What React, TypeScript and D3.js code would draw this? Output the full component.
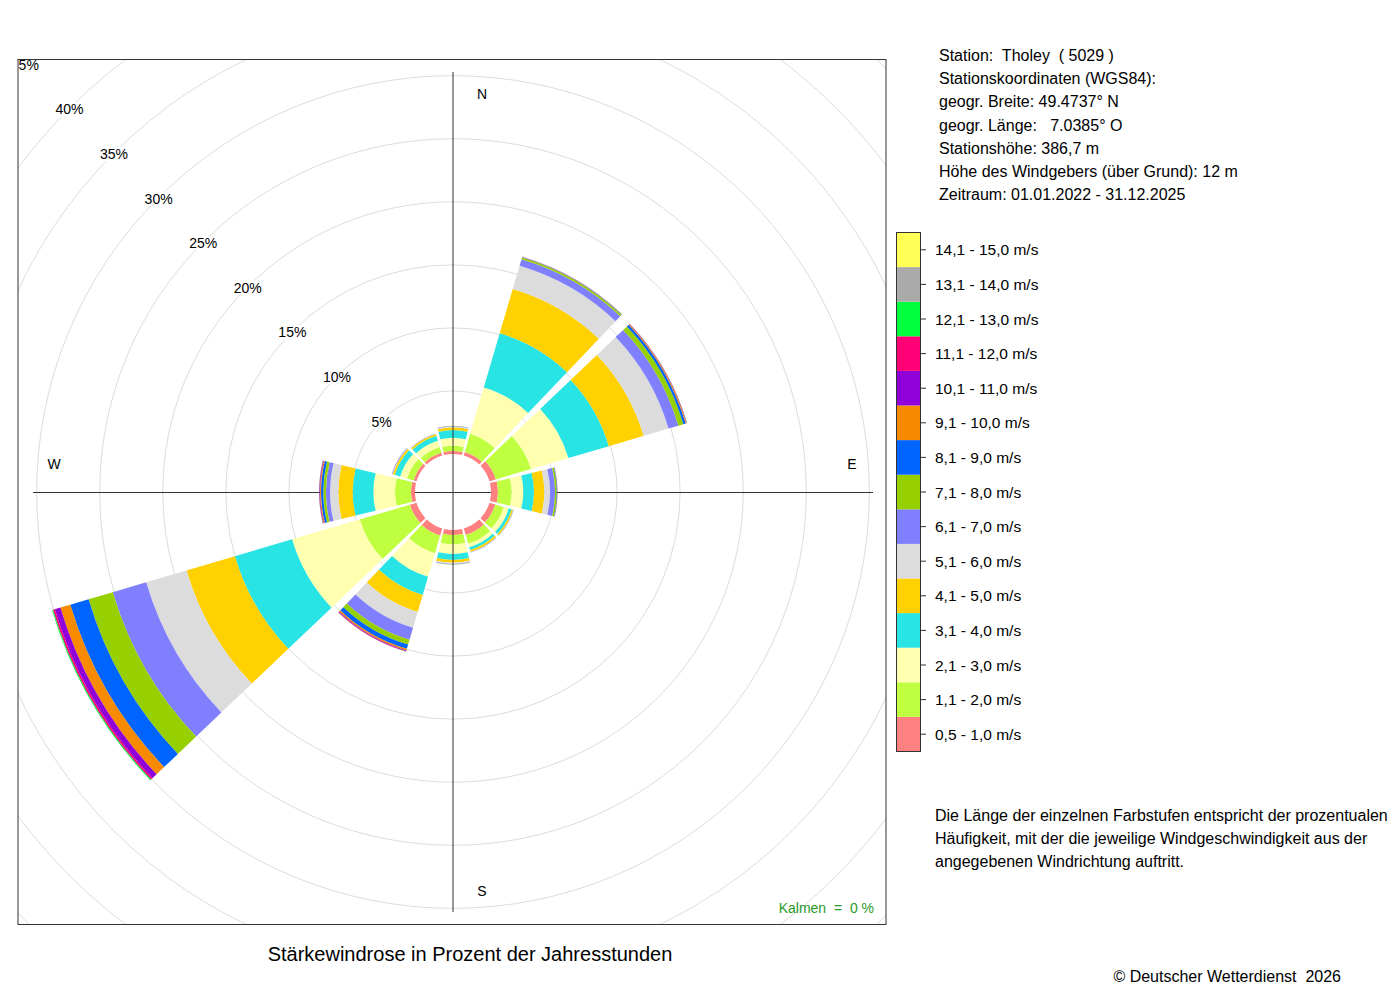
import React, { useEffect, useRef } from 'react';
import * as d3 from 'd3';

// Windrichtungen (Sektormitte, Grad ab Nord, im Uhrzeigersinn)
const directions = [0, 30, 60, 90, 120, 150, 180, 210, 240, 270, 300, 330];

const speedClasses = [
  '0,5 - 1,0 m/s', '1,1 - 2,0 m/s', '2,1 - 3,0 m/s', '3,1 - 4,0 m/s', '4,1 - 5,0 m/s',
  '5,1 - 6,0 m/s', '6,1 - 7,0 m/s', '7,1 - 8,0 m/s', '8,1 - 9,0 m/s', '9,1 - 10,0 m/s',
  '10,1 - 11,0 m/s', '11,1 - 12,0 m/s', '12,1 - 13,0 m/s', '13,1 - 14,0 m/s', '14,1 - 15,0 m/s',
];

const speedColors = [
  '#FF8080', '#BFFF3F', '#FFFFAF', '#29E4E4', '#FFD100',
  '#DCDCDC', '#8080FF', '#97D000', '#0064FF', '#F88A00',
  '#9000D8', '#FF0077', '#00FF3C', '#AAAAAA', '#FFFF55',
];

// Häufigkeit in % der Jahresstunden je Geschwindigkeitsstufe (von 0,5 m/s aufwärts)
const freq000 = [0.24, 0.42, 0.63, 0.61, 0.21, 0.07, 0.04, 0.01, 0, 0, 0, 0, 0, 0, 0];
const freq030 = [0.30, 1.50, 3.83, 4.47, 3.66, 1.92, 0.54, 0.14, 0.04, 0.02, 0.01, 0.005, 0.005, 0, 0];
const freq060 = [0.53, 2.91, 3.09, 3.34, 2.88, 2.05, 0.82, 0.41, 0.19, 0.07, 0.03, 0.01, 0.01, 0, 0];
const freq090 = [0.55, 1.09, 0.92, 0.85, 0.82, 0.45, 0.40, 0.13, 0.04, 0.02, 0.01, 0, 0, 0, 0];
const freq120 = [0.48, 0.71, 0.40, 0.24, 0.12, 0.02, 0.03, 0.01, 0, 0, 0, 0, 0, 0, 0];
const freq150 = [0.55, 0.72, 0.28, 0.23, 0.16, 0.02, 0.03, 0, 0, 0, 0, 0, 0, 0, 0];
const freq180 = [0.40, 0.74, 0.76, 0.48, 0.21, 0.10, 0.05, 0.01, 0, 0, 0, 0, 0, 0, 0];
const freq210 = [0.59, 1.46, 1.95, 1.50, 1.40, 1.30, 1.00, 0.40, 0.35, 0.13, 0.06, 0.03, 0.02, 0, 0];
const freq240 = [0.55, 4.15, 5.59, 4.73, 4.00, 3.33, 2.76, 2.00, 1.51, 0.82, 0.46, 0.15, 0.08, 0.01, 0];
const freq270 = [0.32, 1.27, 1.71, 1.64, 1.14, 0.66, 0.32, 0.21, 0.18, 0.08, 0.05, 0.02, 0.01, 0, 0];
const freq300 = [0.24, 0.55, 0.56, 0.45, 0.16, 0.04, 0.04, 0.01, 0, 0, 0, 0, 0, 0, 0];
const freq330 = [0.24, 0.47, 0.52, 0.40, 0.15, 0.02, 0.02, 0.01, 0, 0, 0, 0, 0, 0, 0];

const freqByDirection = [
  freq000, freq030, freq060, freq090, freq120, freq150,
  freq180, freq210, freq240, freq270, freq300, freq330,
];

const percentTicks = [5, 10, 15, 20, 25, 30, 35, 40, 45];

const compassLabels = [
  { label: 'N', angle: 0 },
  { label: 'E', angle: 90 },
  { label: 'S', angle: 180 },
  { label: 'W', angle: 270 },
];

const stationLines = [
  'Station:  Tholey  ( 5029 )',
  'Stationskoordinaten (WGS84):',
  'geogr. Breite: 49.4737° N',
  'geogr. Länge:   7.0385° O',
  'Stationshöhe: 386,7 m',
  'Höhe des Windgebers (über Grund): 12 m',
  'Zeitraum: 01.01.2022 - 31.12.2025',
];

const noteLines = [
  'Die Länge der einzelnen Farbstufen entspricht der prozentualen',
  'Häufigkeit, mit der die jeweilige Windgeschwindigkeit aus der',
  'angegebenen Windrichtung auftritt.',
];

const WindRose: React.FC = () => {
  const svgRef = useRef<SVGSVGElement>(null);

  useEffect(() => {
    if (!svgRef.current) return;

    const svg = d3.select(svgRef.current);
    svg.selectAll('*').remove();

    const font = "'Liberation Sans', Arial, Helvetica, sans-serif";
    const cx = 453;
    const cy = 492;
    const frame = { x: 18, y: 59.5, w: 868, h: 865 };
    const rad = Math.PI / 180;
    const halfWidth = 13.6; // degrees, leaves an angular gap between sectors

    // radial scale: 0 % sits on the edge of the white hole
    const r = d3.scaleLinear().domain([0, 45]).range([38, 605.5]);

    svg.append('defs')
      .append('clipPath')
      .attr('id', 'plot-clip')
      .append('rect')
      .attr('x', frame.x)
      .attr('y', frame.y)
      .attr('width', frame.w)
      .attr('height', frame.h);

    svg.append('rect')
      .attr('width', 1400)
      .attr('height', 1000)
      .attr('fill', '#fff');

    const plot = svg.append('g').attr('clip-path', 'url(#plot-clip)');
    const g = plot.append('g').attr('transform', `translate(${cx},${cy})`);

    // grid circles
    g.selectAll('circle.grid')
      .data(percentTicks)
      .enter()
      .append('circle')
      .attr('class', 'grid')
      .attr('r', d => r(d))
      .attr('fill', 'none')
      .attr('stroke', '#dcdcdc')
      .attr('stroke-width', 1);

    // horizontal axis sits below the sectors
    g.append('line')
      .attr('x1', -420).attr('x2', 420)
      .attr('y1', 0.5).attr('y2', 0.5)
      .attr('stroke', '#333')
      .attr('stroke-width', 1);

    // stacked sectors
    const arc = d3.arc<any>();
    directions.forEach((dir, i) => {
      const values = freqByDirection[i];
      const startAngle = (dir - halfWidth) * rad;
      const endAngle = (dir + halfWidth) * rad;
      let cum = 0;
      values.forEach((v, k) => {
        if (v <= 0) return;
        const innerRadius = r(cum);
        cum += v;
        const outerRadius = r(cum);
        g.append('path')
          .attr('d', arc({ innerRadius, outerRadius, startAngle, endAngle }))
          .attr('fill', speedColors[k]);
      });
    });

    // vertical axis on top
    g.append('line')
      .attr('x1', 0).attr('x2', 0)
      .attr('y1', -420).attr('y2', 420)
      .attr('stroke', '#333')
      .attr('stroke-width', 1);

    // percent labels along the NW diagonal
    const pctLabel = g.selectAll('g.pct')
      .data(percentTicks)
      .enter()
      .append('g')
      .attr('class', 'pct')
      .attr('transform', d => {
        const d0 = r(d) / Math.SQRT2;
        return `translate(${-d0},${-d0 + 1})`;
      });
    pctLabel.append('rect')
      .attr('x', -15).attr('y', -7)
      .attr('width', 30).attr('height', 14)
      .attr('fill', '#fff');
    pctLabel.append('text')
      .attr('text-anchor', 'middle')
      .attr('dominant-baseline', 'central')
      .style('font-family', font)
      .style('font-size', '14px')
      .style('fill', '#000')
      .text(d => `${d}%`);

    // compass letters
    g.selectAll('text.compass')
      .data(compassLabels)
      .enter()
      .append('text')
      .attr('class', 'compass')
      .attr('x', d => (d.angle === 90 ? 399 : d.angle === 270 ? -399 : 29))
      .attr('y', d => (d.angle === 0 ? -398 : d.angle === 180 ? 399 : -28))
      .attr('text-anchor', 'middle')
      .attr('dominant-baseline', 'central')
      .style('font-family', font)
      .style('font-size', '14px')
      .text(d => d.label);

    // Kalmen
    svg.append('text')
      .attr('x', 874)
      .attr('y', 913)
      .attr('text-anchor', 'end')
      .style('font-family', font)
      .style('font-size', '14px')
      .style('white-space', 'pre')
      .style('fill', '#2a9a2a')
      .text('Kalmen  =  0 %');

    // frame
    svg.append('rect')
      .attr('x', frame.x)
      .attr('y', frame.y)
      .attr('width', frame.w)
      .attr('height', frame.h)
      .attr('fill', 'none')
      .attr('stroke', '#333')
      .attr('stroke-width', 1);

    // title
    svg.append('text')
      .attr('x', 470)
      .attr('y', 961)
      .attr('text-anchor', 'middle')
      .style('font-family', font)
      .style('font-size', '20px')
      .text('Stärkewindrose in Prozent der Jahresstunden');

    // station info
    svg.selectAll('text.station')
      .data(stationLines)
      .enter()
      .append('text')
      .attr('class', 'station')
      .attr('x', 939)
      .attr('y', (_, i) => 61 + i * 23.2)
      .style('font-family', font)
      .style('font-size', '16px')
      .style('white-space', 'pre')
      .text(d => d);

    // legend
    const legendY = d3.scaleBand<string>()
      .domain(speedClasses.slice().reverse())
      .range([232.5, 751.5]);
    const legend = svg.append('g');
    legend.selectAll('rect.cell')
      .data(speedClasses)
      .enter()
      .append('rect')
      .attr('class', 'cell')
      .attr('x', 896)
      .attr('y', d => legendY(d) ?? 0)
      .attr('width', 24)
      .attr('height', legendY.bandwidth())
      .attr('fill', (_, i) => speedColors[i]);
    legend.append('rect')
      .attr('x', 896.5)
      .attr('y', 232.5)
      .attr('width', 24)
      .attr('height', 519)
      .attr('fill', 'none')
      .attr('stroke', '#333');
    legend.selectAll('line.tick')
      .data(speedClasses)
      .enter()
      .append('line')
      .attr('class', 'tick')
      .attr('x1', 920.5)
      .attr('x2', 926)
      .attr('y1', d => (legendY(d) ?? 0) + legendY.bandwidth() / 2)
      .attr('y2', d => (legendY(d) ?? 0) + legendY.bandwidth() / 2)
      .attr('stroke', '#333');
    legend.selectAll('text.label')
      .data(speedClasses)
      .enter()
      .append('text')
      .attr('class', 'label')
      .attr('x', 935)
      .attr('y', d => (legendY(d) ?? 0) + legendY.bandwidth() / 2)
      .attr('dominant-baseline', 'central')
      .style('font-family', font)
      .style('font-size', '15.5px')
      .text(d => d);

    // explanation
    svg.selectAll('text.note')
      .data(noteLines)
      .enter()
      .append('text')
      .attr('class', 'note')
      .attr('x', 935)
      .attr('y', (_, i) => 821 + i * 23)
      .style('font-family', font)
      .style('font-size', '16px')
      .text(d => d);

    svg.append('text')
      .attr('x', 1341)
      .attr('y', 982)
      .attr('text-anchor', 'end')
      .style('font-family', font)
      .style('font-size', '16px')
      .style('white-space', 'pre')
      .text('© Deutscher Wetterdienst  2026');
  }, []);

  return (
    <svg
      ref={svgRef}
      width={1400}
      height={1000}
      style={{ position: 'absolute', left: 0, top: 0, display: 'block' }}
    />
  );
};

export default function App() {
  return <WindRose />;
}
